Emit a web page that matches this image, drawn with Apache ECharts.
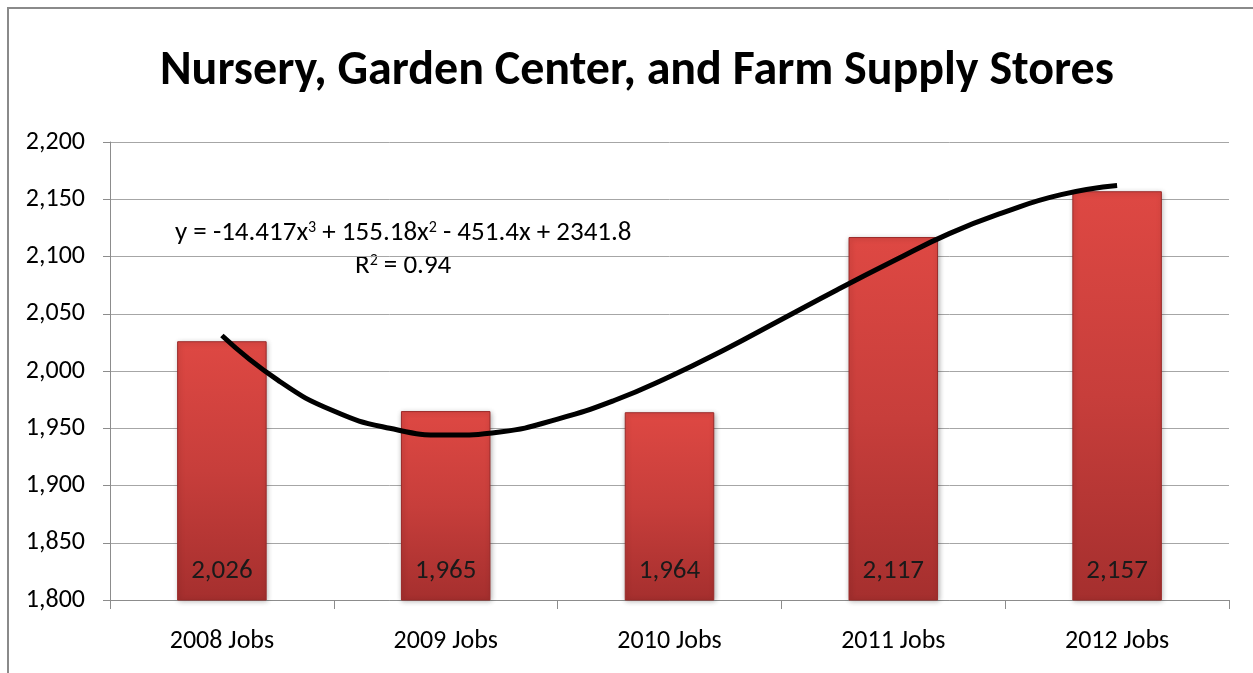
<!DOCTYPE html>
<html>
<head>
<meta charset="utf-8">
<script src="https://cdn.jsdelivr.net/npm/echarts@6/dist/echarts.min.js"></script>
<style>
html,body{margin:0;padding:0;background:#fff;}
#c{width:1253px;height:673px;}
</style>
</head>
<body>
<div id="c"></div>
<script>
const title = 'Nursery, Garden Center, and Farm Supply Stores';
const categories = ['2008 Jobs', '2009 Jobs', '2010 Jobs', '2011 Jobs', '2012 Jobs'];
const jobs = [2026, 1965, 1964, 2117, 2157];
const yTicks = { min: 1800, max: 2200, interval: 50 };
// trendline readings (x = category position 1..5, y = value)
const trendX = [1, 1.25, 1.5, 1.75, 2, 2.25, 2.5, 2.75, 3, 3.25, 3.5, 3.75, 4, 4.25, 4.5, 4.75, 5];
const trendY = [2031, 1992, 1965, 1950, 1944, 1947, 1958, 1974, 1995, 2019, 2045, 2071, 2096, 2120, 2139, 2154, 2162];
const equationText = 'y = -14.417x{s|3} + 155.18x{s|2} - 451.4x + 2341.8';
const rSquaredText = 'R{s|2} = 0.94';

const labelFont = "Carlito, Roboto, 'Liberation Sans', sans-serif";
const titleFont = "Carlito, 'Liberation Sans Narrow', 'DejaVu Sans Condensed', sans-serif";

const richSup = {
  s: { fontFamily: labelFont, fontSize: 16, verticalAlign: 'top', padding: [0, 0, 10, 0], fill: '#000' }
};

const chart = echarts.init(document.getElementById('c'), null, { renderer: 'canvas' });
chart.setOption({
  animation: false,
  backgroundColor: '#fff',
  title: {
    text: title, left: 155, top: 43,
    textStyle: { fontFamily: titleFont, fontWeight: 'bold', fontSize: 48, color: '#000' }
  },
  grid: { left: 110, right: 24, top: 142, bottom: 73, containLabel: false },
  xAxis: [{
    type: 'category', data: categories,
    axisLine: { lineStyle: { color: '#8c8c8c', width: 1 } },
    axisTick: { show: true, length: 9, lineStyle: { color: '#8c8c8c' } },
    axisLabel: { fontFamily: labelFont, fontSize: 26, color: '#000', margin: 28 }
  }, {
    type: 'value', min: 0.5, max: 5.5, show: false
  }],
  yAxis: {
    type: 'value', min: yTicks.min, max: yTicks.max, interval: yTicks.interval,
    axisLine: { show: true, lineStyle: { color: '#8c8c8c', width: 1 } },
    axisTick: { show: true, length: 7, lineStyle: { color: '#8c8c8c' } },
    splitLine: { lineStyle: { color: '#a6a6a6', width: 1 } },
    axisLabel: {
      fontFamily: labelFont, fontSize: 26, color: '#000', margin: 25,
      formatter: v => v.toLocaleString('en-US')
    }
  },
  series: [{
    type: 'bar', data: jobs, barWidth: '40%',
    itemStyle: {
      color: new echarts.graphic.LinearGradient(0, 0, 0, 1, [
        { offset: 0, color: '#de4843' },
        { offset: 0.5, color: '#c73e3b' },
        { offset: 1, color: '#a52f2e' }
      ]),
      borderColor: '#9a2a29', borderWidth: 1,
      shadowColor: 'rgba(0,0,0,0.3)', shadowBlur: 5, shadowOffsetX: 1, shadowOffsetY: 1
    },
    label: {
      show: true, position: 'insideBottom', distance: 16,
      fontFamily: labelFont, fontSize: 27, color: '#1a1a1a',
      formatter: p => p.value.toLocaleString('en-US')
    }
  }, {
    type: 'line', xAxisIndex: 1, smooth: true, symbol: 'none',
    data: trendX.map((x, i) => [x, trendY[i]]),
    lineStyle: { color: '#000', width: 5 }, z: 5
  }],
  graphic: [{
    type: 'rect', shape: { x: 8, y: 8, width: 1260, height: 680 },
    style: { fill: 'none', stroke: '#8a8a8a', lineWidth: 2 }, silent: true
  }, {
    type: 'text', left: 175, top: 220,
    style: { text: equationText, rich: richSup, fontFamily: labelFont, fontSize: 27, fill: '#000' }
  }, {
    type: 'text', left: 355, top: 253,
    style: { text: rSquaredText, rich: richSup, fontFamily: labelFont, fontSize: 27, fill: '#000' }
  }]
});
</script>
</body>
</html>
